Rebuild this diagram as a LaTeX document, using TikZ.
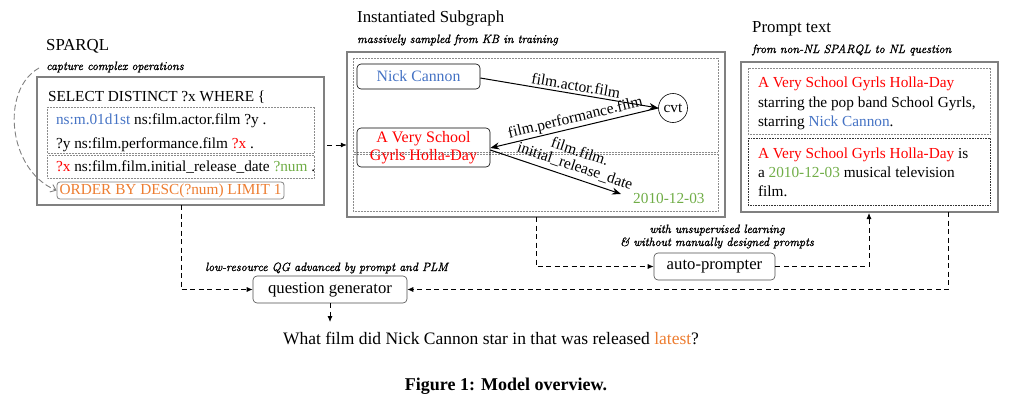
\documentclass[tikz,border=0pt]{standalone}
\usepackage{fontspec}
\setmainfont{Liberation Serif}
\newfontfamily\handfont{Latin Modern Roman}[FakeBold=1.6]
\usetikzlibrary{arrows.meta,calc}
\definecolor{cblue}{RGB}{68,114,196}
\definecolor{cred}{RGB}{255,0,0}
\definecolor{cgreen}{RGB}{112,173,71}
\definecolor{corange}{RGB}{237,125,49}
\definecolor{cgray}{RGB}{128,128,128}
\tikzset{
  txt/.style={inner sep=0pt, outer sep=0pt, anchor=base west, font=\fontsize{15.3}{18}\selectfont},
  ttl/.style={inner sep=0pt, anchor=base west, font=\fontsize{16.8}{19}\selectfont},
  hand/.style={inner sep=0pt, anchor=base west, font=\handfont\itshape\fontsize{12}{13}\selectfont},
  outerbox/.style={draw=cgray, line width=1.3pt},
  dotbox/.style={draw=black!45, densely dotted, line width=0.5pt},
  rbox/.style={draw=black, rounded corners=4pt, line width=0.6pt, inner sep=0pt},
  garrow/.style={-{Stealth[length=9pt,width=7pt]}, line width=1pt},
  darrow/.style={dashed, dash pattern=on 5pt off 3.5pt, line width=0.8pt, -{Latex[length=6pt,width=5pt]}},
  elab/.style={font=\fontsize{15.5}{16}\selectfont, inner sep=1.5pt},
}
\begin{document}
\begin{tikzpicture}[x=1pt,y=-1pt]
\useasboundingbox (0,0) rectangle (1025,404);

% ---------------- SPARQL ----------------
\node[ttl] (sparqlt) at (46,51) {SPARQL};
\node[hand] (capt) at (46,70) {capture complex operations};
\draw[outerbox] (37,77) rectangle (324,205);
\node (sparqlbox) at (180.5,141) [minimum width=287pt, minimum height=128pt, inner sep=0pt] {};
\node[txt] (sel) at (48,101) {SELECT DISTINCT ?x WHERE \{};
\draw[dotbox] (47,107) rectangle (314,153);
\draw[dotbox] (47,155) rectangle (314,178);
\node[txt] (l1) at (56,124) {\textcolor{cblue}{ns:m.01d1st} ns:film.actor.film ?y .};
\node[txt] (l2) at (56,148) {?y ns:film.performance.film \textcolor{cred}{?x} .};
\node[txt] (l3) at (56,171) {\textcolor{cred}{?x} ns:film.film.initial\_release\_date \textcolor{cgreen}{?num} .};
\node[draw=cgray, rounded corners=3pt, line width=0.8pt, minimum width=227pt, minimum height=17pt, inner sep=0pt,
      font=\fontsize{15.3}{18}\selectfont, text=corange] (order) at (170.5,190.5) {ORDER BY DESC(?num) LIMIT 1};
\coordinate (capstart) at (39,68);
\draw[cgray, line width=0.9pt, dash pattern=on 6pt off 3pt, -{Straight Barb[length=5pt,width=8pt]}]
  (capstart) .. controls (0,90) and (8,170) .. (order.west);

% ---------------- Subgraph ----------------
\node[ttl] (subt) at (357,23) {Instantiated Subgraph};
\node[hand] (subh) at (357,43) {massively sampled from KB in training};
\draw[outerbox] (347,52) rectangle (725,217);
\node (subbox) at (536,134.5) [minimum width=378pt, minimum height=165pt, inner sep=0pt] {};
\draw[dotbox] (353,58) rectangle (718,152);
\draw[dotbox] (353,154) rectangle (718,211);
\node[rbox, minimum width=123pt, minimum height=25pt, text=cblue, font=\fontsize{15.8}{18}\selectfont] (nick) at (418.5,76.5) {Nick Cannon};
\node[rbox, minimum width=133pt, minimum height=39pt, text=cred, align=center, font=\fontsize{16}{18}\selectfont] (avs) at (423.5,147.5) {A Very School\\Gyrls Holla-Day};
\node[draw=black, circle, minimum size=29pt, inner sep=0pt, line width=0.6pt, font=\fontsize{15.3}{18}\selectfont] (cvt) at (673,108) {cvt};
\node[inner sep=0pt, anchor=base west, text=cgreen, font=\fontsize{15.3}{18}\selectfont] (date) at (633,203) {2010-12-03};
\draw[garrow] (nick.east |- 0,78) -- (cvt.west) node[pos=0.53, above=1pt, sloped, elab] {film.actor.film};
\draw[garrow] (cvt.west) -- (avs.east |- 0,148) node[pos=0.48, above, sloped, elab] {film.performance.film};
\draw[garrow] (avs.east |- 0,150) -- ($(date.west)+(-12,-4)$) node[pos=0.62, above=3pt, sloped, elab, align=center, font=\fontsize{15.5}{15}\selectfont] {film.film.\\initial\_release\_date};

% ---------------- Prompt text ----------------
\node[ttl] (promptt) at (752,33) {Prompt text};
\node[hand] (prompth) at (752,53) {from non-NL SPARQL to NL question};
\draw[outerbox] (741,62) rectangle (998,212);
\node (promptbox) at (869.5,137) [minimum width=257pt, minimum height=150pt, inner sep=0pt] {};
\draw[dotbox] (748,68) rectangle (990,134);
\draw[draw=black!80, densely dotted, line width=0.6pt] (748,138) rectangle (990,205);
\node[txt] (p1) at (758,88) {\textcolor{cred}{A Very School Gyrls Holla-Day}};
\node[txt] (p2) at (758,107) {starring the pop band School Gyrls,};
\node[txt] (p3) at (758,126) {starring \textcolor{cblue}{Nick Cannon}.};
\node[txt] (p4) at (758,158) {\textcolor{cred}{A Very School Gyrls Holla-Day} is};
\node[txt] (p5) at (758,177) {a \textcolor{cgreen}{2010-12-03} musical television};
\node[txt] (p6) at (758,196) {film.};

% ---------------- bottom ----------------
\node[rbox, draw=black!70, minimum width=121pt, minimum height=27pt, font=\fontsize{16.7}{18}\selectfont] (auto) at (714.5,266.5) {auto-prompter};
\node[rbox, draw=black!70, minimum width=154pt, minimum height=27pt, font=\fontsize{16.7}{18}\selectfont] (qg) at (330,289.5) {question generator};
\node[hand, anchor=base] (ahand1) at (717,233) {with unsupervised learning};
\node[hand, anchor=base] (ahand2) at (717,246) {\& without manually designed prompts};
\node[hand] (qhand) at (205,271) {low-resource QG advanced by prompt and PLM};
\node[inner sep=0pt, anchor=base, font=\fontsize{17.5}{20}\selectfont] (question) at (491,344) {What film did Nick Cannon star in that was released \textcolor{corange}{latest}?};
\node[inner sep=0pt, anchor=base, font=\bfseries\fontsize{18}{20}\selectfont] (caption) at (506,390) {Figure 1: Model overview.};

\coordinate (sp1) at (327,145);
\draw[darrow] (sp1) -- (subbox.west |- sp1);
\draw[darrow] (181,205) |- (qg.west);
\draw[darrow] (536,217) |- (auto.west);
\draw[darrow] (auto.east) -| (869,213);
\draw[darrow] (948,212) |- (qg.east);
\draw[darrow] (qg.south) -- (330,322);
\end{tikzpicture}
\end{document}
